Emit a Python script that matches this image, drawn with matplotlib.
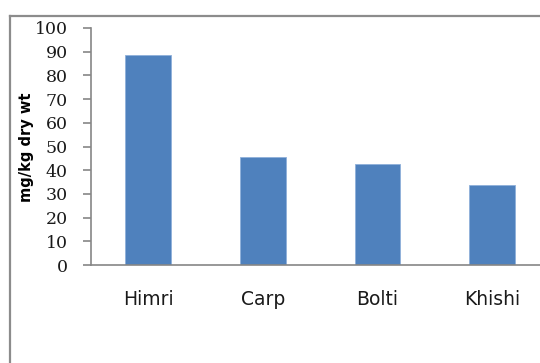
import matplotlib.pyplot as plt
from matplotlib.lines import Line2D
import numpy as np

# metal content per fish species
species = ['Himri', 'Carp', 'Bolti', 'Khishi']
conc = [88.6, 45.4, 42.7, 33.8]
yticks = list(range(0, 101, 10))

W, H = 540, 363
fig = plt.figure(figsize=(W / 100, H / 100), dpi=100)
fig.patch.set_facecolor('white')

# outer chart border (left and top edges visible)
fig.add_artist(Line2D([9.5 / W, 9.5 / W], [0, 1 - 16 / H], color='#8c8c8c', lw=1.6))
fig.add_artist(Line2D([9.5 / W, 1], [1 - 16 / H, 1 - 16 / H], color='#8c8c8c', lw=1.6))

ax = fig.add_axes([90.7 / W, 1 - 265 / H, 458.8 / W, 237 / H])
x = np.arange(len(species))
ax.bar(x, conc, width=0.4, color='#4f81bd', edgecolor='#8fb0da', linewidth=0.6)

ax.set_xlim(-0.5, len(species) - 0.5)
ax.set_ylim(0, 100)
ax.set_yticks(yticks)
ax.set_yticklabels([str(v) for v in yticks], fontfamily='DejaVu Serif',
                   fontsize=12.5, color='#1a1a1a')
ax.set_xticks(x)
ax.set_xticklabels(species, fontfamily='DejaVu Sans', fontsize=13.5, color='#1a1a1a')
ax.tick_params(axis='y', length=5.5, width=1.2, color='#868686', pad=11)
ax.tick_params(axis='x', length=0, pad=18)

for side in ['top', 'right']:
    ax.spines[side].set_visible(False)
for side in ['left', 'bottom']:
    ax.spines[side].set_color('#868686')
    ax.spines[side].set_linewidth(1.2)

fig.text(27 / W, 1 - 147 / H, 'mg/kg dry wt', rotation=90, fontsize=10.5,
         fontweight='bold', ha='center', va='center', color='black')

fig.savefig('out.png', dpi=100, facecolor='white')
